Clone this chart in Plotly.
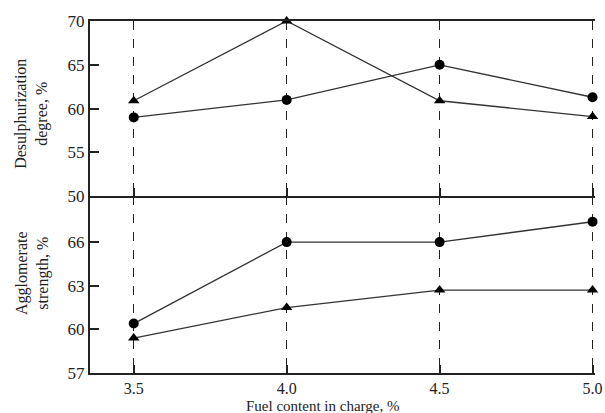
import plotly.graph_objects as go
from plotly.subplots import make_subplots

fuel = [3.5, 4.0, 4.5, 5.0]
desulf_circle = [59.0, 61.0, 65.0, 61.3]
desulf_triangle = [60.9, 70.0, 60.9, 59.1]
strength_circle = [60.4, 66.0, 66.0, 67.4]
strength_triangle = [59.4, 61.5, 62.7, 62.7]

top_ticks = [50, 55, 60, 65, 70]
bottom_ticks = [57, 60, 63, 66]
x_ticks = [3.5, 4.0, 4.5, 5.0]
x_tick_labels = ["3.5", "4.0", "4.5", "5.0"]

FONT = "Liberation Serif, Times New Roman, serif"
LINE = "#333333"
INK = "#222222"

fig = make_subplots(rows=2, cols=1, shared_xaxes=True, vertical_spacing=0)

def add(x, y, symbol, row):
    fig.add_trace(go.Scatter(
        x=x, y=y, mode="lines+markers",
        line=dict(color=LINE, width=1.3),
        marker=dict(symbol=symbol, size=10, color="black"),
        showlegend=False, cliponaxis=False), row=row, col=1)

add(fuel, desulf_circle, "circle", 1)
add(fuel, desulf_triangle, "triangle-up", 1)
add(fuel, strength_circle, "circle", 2)
add(fuel, strength_triangle, "triangle-up", 2)

xcommon = dict(range=[3.357, 5.008], tickvals=x_ticks, ticktext=x_tick_labels,
               showgrid=True, gridcolor=INK, griddash="dash", gridwidth=1.2,
               showline=True, linecolor=INK, linewidth=2,
               ticks="inside", ticklen=8, tickcolor=INK, tickwidth=1.5,
               zeroline=False, automargin=False, ticklabeloverflow="allow",
               ticklabelstandoff=0,
               tickfont=dict(family=FONT, size=16, color=INK))

fig.update_xaxes(**xcommon)
fig.update_xaxes(row=1, col=1, mirror=True, showticklabels=False)
fig.update_xaxes(row=2, col=1, showticklabels=True)

ycommon = dict(showgrid=False, zeroline=False, showline=True, linecolor=INK, linewidth=2,
               ticks="inside", ticklen=9, tickcolor=INK, tickwidth=2, automargin=False,
               tickfont=dict(family=FONT, size=17, color=INK))
fig.update_yaxes(**ycommon)
fig.update_yaxes(row=1, col=1, range=[50, 70], tickvals=top_ticks)
fig.update_yaxes(row=2, col=1, range=[57, 69.15], tickvals=bottom_ticks)

fig.update_layout(
    width=605, height=413,
    margin=dict(l=90, r=10, t=21, b=40),
    paper_bgcolor="white", plot_bgcolor="white",
    font=dict(family=FONT, size=16, color=INK),
    yaxis=dict(domain=[0.502, 1.0]),
    yaxis2=dict(domain=[0.0, 0.502]),
    annotations=[
        dict(text="Desulphurization<br>degree, %", xref="paper", yref="paper",
             x=-0.115, y=0.736, textangle=-90, showarrow=False,
             font=dict(family=FONT, size=16, color=INK), xanchor="center", yanchor="middle"),
        dict(text="Agglomerate<br>strength, %", xref="paper", yref="paper",
             x=-0.115, y=0.284, textangle=-90, showarrow=False,
             font=dict(family=FONT, size=16, color=INK), xanchor="center", yanchor="middle"),
        dict(text="Fuel content in charge, %", xref="paper", yref="paper",
             x=0.461, y=-0.093, showarrow=False,
             font=dict(family=FONT, size=15, color=INK), xanchor="center", yanchor="middle"),
    ],
)

fig.write_html("out.html", config={"displayModeBar": False},
               post_script="document.body.style.margin='0';")
